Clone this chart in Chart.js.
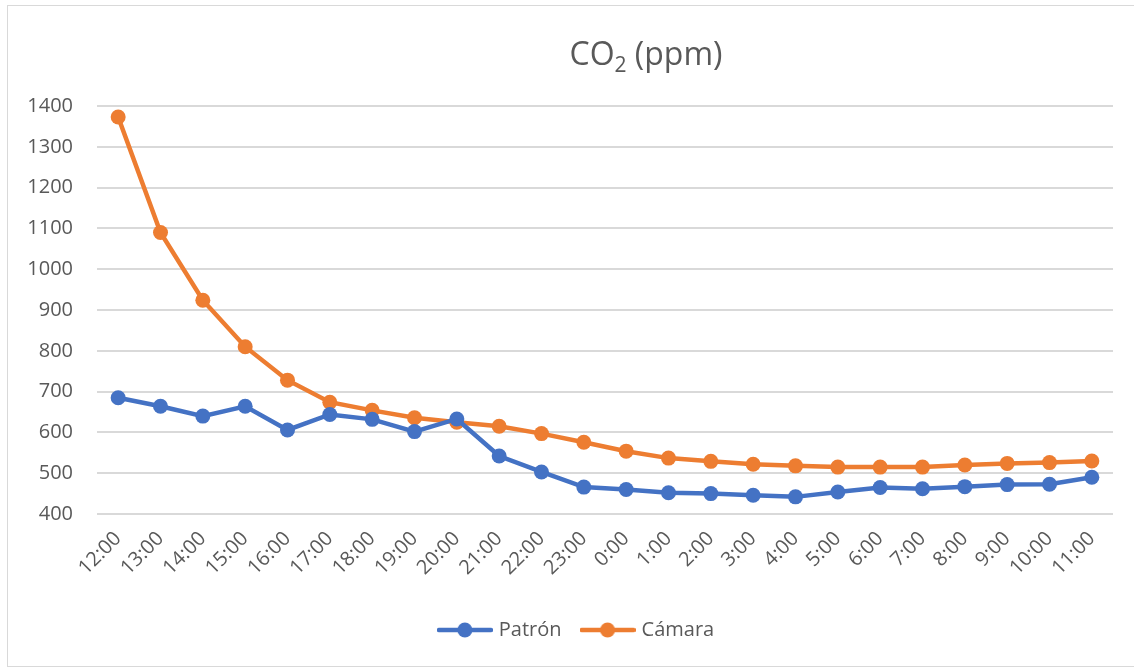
<!DOCTYPE html>
<html>
<head>
<meta charset="utf-8">
<script src="https://cdn.jsdelivr.net/npm/chart.js@4.4.1/dist/chart.umd.min.js"></script>
<style>
  html, body { margin: 0; padding: 0; background: #fff; }
  #wrap { width: 1134px; height: 668px; position: relative; }
</style>
</head>
<body>
<div id="wrap"><canvas id="myChart" width="1134" height="668"></canvas></div>
<script>
// CO2 readings per hour
var horas = ['12:00', '13:00', '14:00', '15:00', '16:00', '17:00', '18:00', '19:00', '20:00', '21:00', '22:00', '23:00',
    '0:00', '1:00', '2:00', '3:00', '4:00', '5:00', '6:00', '7:00', '8:00', '9:00', '10:00', '11:00'];
var patron = [685, 664, 640, 664, 606, 644, 632, 602, 633, 542, 503, 466,
    460, 452, 450, 446, 442, 454, 465, 462, 467, 472, 473, 490];
var camara = [1373, 1090, 924, 810, 728, 674, 654, 636, 625, 615, 597, 576,
    554, 537, 529, 522, 518, 515, 515, 515, 520, 524, 526, 530];
var yMin = 400, yMax = 1400, yStep = 100;

var gris = '#595959';
var azul = '#4472C4';
var naranja = '#ED7D31';

// legend marker: short line with a dot in the middle
function marcador(color) {
    var c = document.createElement('canvas');
    c.width = 56;
    c.height = 16;
    var g = c.getContext('2d');
    g.strokeStyle = color;
    g.lineWidth = 4.5;
    g.lineCap = 'round';
    g.beginPath();
    g.moveTo(2, 8);
    g.lineTo(54, 8);
    g.stroke();
    g.fillStyle = color;
    g.beginPath();
    g.arc(28, 8, 7.5, 0, Math.PI * 2);
    g.fill();
    return c;
}

var marco = {
    id: 'marco',
    afterLayout: function (chart) {
        // legend sits a bit right of the canvas centre
        chart.legend.left += 42;
    },
    beforeDraw: function (chart) {
        var g = chart.ctx;
        g.save();
        g.fillStyle = '#fff';
        g.fillRect(0, 0, chart.width, chart.height);
        g.strokeStyle = '#d9d9d9';
        g.lineWidth = 1;
        g.strokeRect(7.5, 5.5, 1140, 661);
        g.restore();
    },
    afterDraw: function (chart) {
        // title with subscript
        var g = chart.ctx;
        g.save();
        g.fillStyle = gris;
        g.textBaseline = 'alphabetic';
        var big = '32px "Open Sans"', small = '21px "Open Sans"';
        g.font = big;
        var w1 = g.measureText('CO').width;
        var w3 = g.measureText(' (ppm)').width;
        g.font = small;
        var w2 = g.measureText('2').width;
        var x = 646 - (w1 + w2 + w3) / 2;
        var y = 65;
        g.font = big;
        g.fillText('CO', x, y);
        g.font = small;
        g.fillText('2', x + w1, y + 7);
        g.font = big;
        g.fillText(' (ppm)', x + w1 + w2, y);
        g.restore();
    }
};

var ctx = document.getElementById('myChart');
new Chart(ctx, {
    type: 'line',
    data: {
        labels: horas,
        datasets: [{
                label: 'Patrón',
                data: patron,
                borderColor: azul,
                backgroundColor: azul,
                borderWidth: 4.5,
                pointRadius: 7.5,
                pointHoverRadius: 7.5,
                pointBorderWidth: 0,
                pointStyle: 'circle',
                tension: 0
            }, {
                label: 'Cámara',
                data: camara,
                borderColor: naranja,
                backgroundColor: naranja,
                borderWidth: 4.5,
                pointRadius: 7.5,
                pointHoverRadius: 7.5,
                pointBorderWidth: 0,
                pointStyle: 'circle',
                tension: 0
            }]
    },
    options: {
        responsive: false,
        animation: false,
        layout: {
            padding: {top: 106, right: 21, bottom: 18, left: 0}
        },
        plugins: {
            title: {display: false},
            tooltip: {enabled: false},
            legend: {
                position: 'bottom',
                labels: {
                    usePointStyle: true,
                    pointStyleWidth: 48,
                    padding: 22,
                    color: gris,
                    font: {family: 'Open Sans', size: 20},
                    generateLabels: function (chart) {
                        return chart.data.datasets.map(function (ds, i) {
                            return {
                                text: ds.label,
                                fillStyle: ds.borderColor,
                                strokeStyle: ds.borderColor,
                                lineWidth: 0,
                                pointStyle: marcador(ds.borderColor),
                                fontColor: gris,
                                hidden: false,
                                datasetIndex: i
                            };
                        });
                    }
                }
            }
        },
        scales: {
            x: {
                offset: true,
                afterFit: function (scale) {
                    scale.height = 84;
                },
                grid: {display: false},
                border: {display: false},
                ticks: {
                    color: gris,
                    font: {family: 'Open Sans', size: 20},
                    minRotation: 45,
                    maxRotation: 45,
                    autoSkip: false,
                    padding: 5
                }
            },
            y: {
                min: yMin,
                max: yMax,
                afterFit: function (scale) {
                    scale.width = 97;
                },
                grid: {color: '#d9d9d9', lineWidth: 2, drawTicks: false},
                border: {display: false},
                ticks: {
                    stepSize: yStep,
                    color: gris,
                    padding: 24,
                    font: {family: 'Open Sans', size: 20},
                    callback: function (v) {
                        return String(v);
                    }
                }
            }
        }
    },
    plugins: [marco]
});
</script>
</body>
</html>
